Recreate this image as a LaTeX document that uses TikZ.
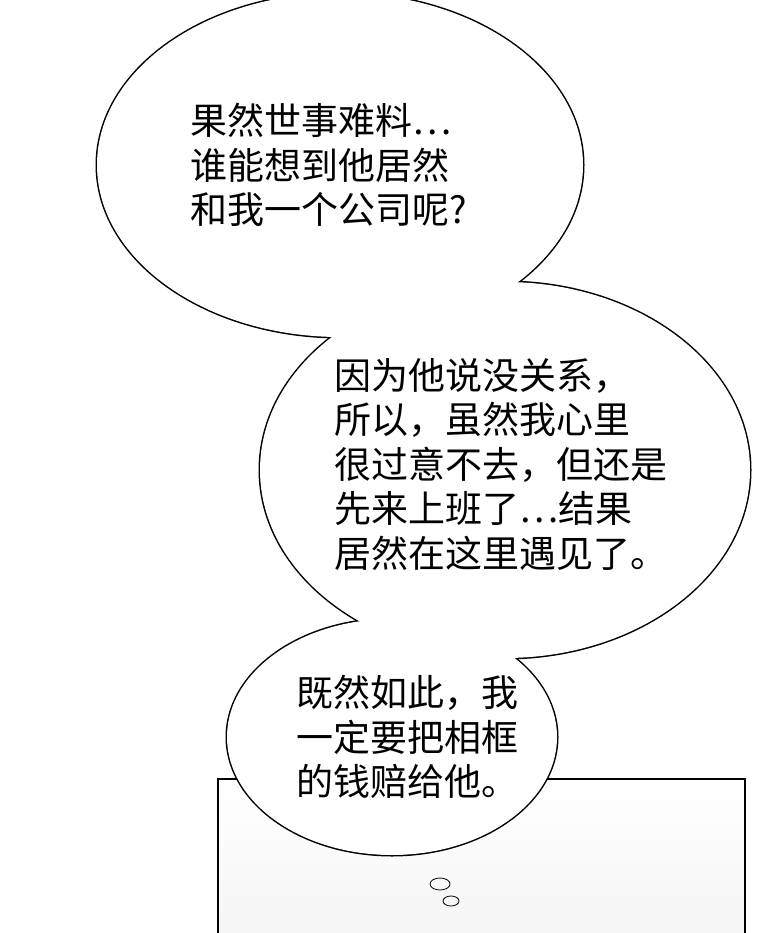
\documentclass[tikz,border=0pt]{standalone}
\usepackage{fontspec}
\newfontfamily\cjk{Noto Sans CJK SC}
\tikzset{
  bubble/.style={line width=3pt},
  speech/.style={anchor=north west, align=left, inner sep=0pt, font=\cjk\fontsize{37}{44.5}\selectfont}
}
\begin{document}
\begin{tikzpicture}[x=1pt,y=-1pt]
        \useasboundingbox (0,0) rectangle (760,933);

        % Draw the panel below
        \draw[line width=2pt, top color=white, bottom color=gray!8] (218,940) -- (218,779) -- (745,779) -- (745,940);

        % Draw the bubble outlines
        \draw[bubble] (340,165) ellipse (243 and 172);
        \draw[bubble] (505,470) ellipse (245 and 188);
        \draw[bubble] (392,737) ellipse (165 and 118);

        % Fill them to merge
        \fill[white] (340,165) ellipse (243 and 172);
        \fill[white] (505,470) ellipse (245 and 188);
        \fill[white] (392,737) ellipse (165 and 118);

        % Small bubbles
        \draw[thick] (440,884) ellipse (10 and 6);
        \draw[thick] (451,901) ellipse (8 and 5);

        % Add texts
        \node[speech] (top) at (190,103) {果然世事难料⋯\\谁能想到他居然\\和我一个公司呢?};
        \node[speech] (mid) at (334,358) {因为他说没关系，\\所以，虽然我心里\\很过意不去，但还是\\先来上班了⋯结果\\居然在这里遇见了。};
        \node[speech] (bot) at (296,675) {既然如此，我\\一定要把相框\\的钱赔给他。};
    \end{tikzpicture}
\end{document}
